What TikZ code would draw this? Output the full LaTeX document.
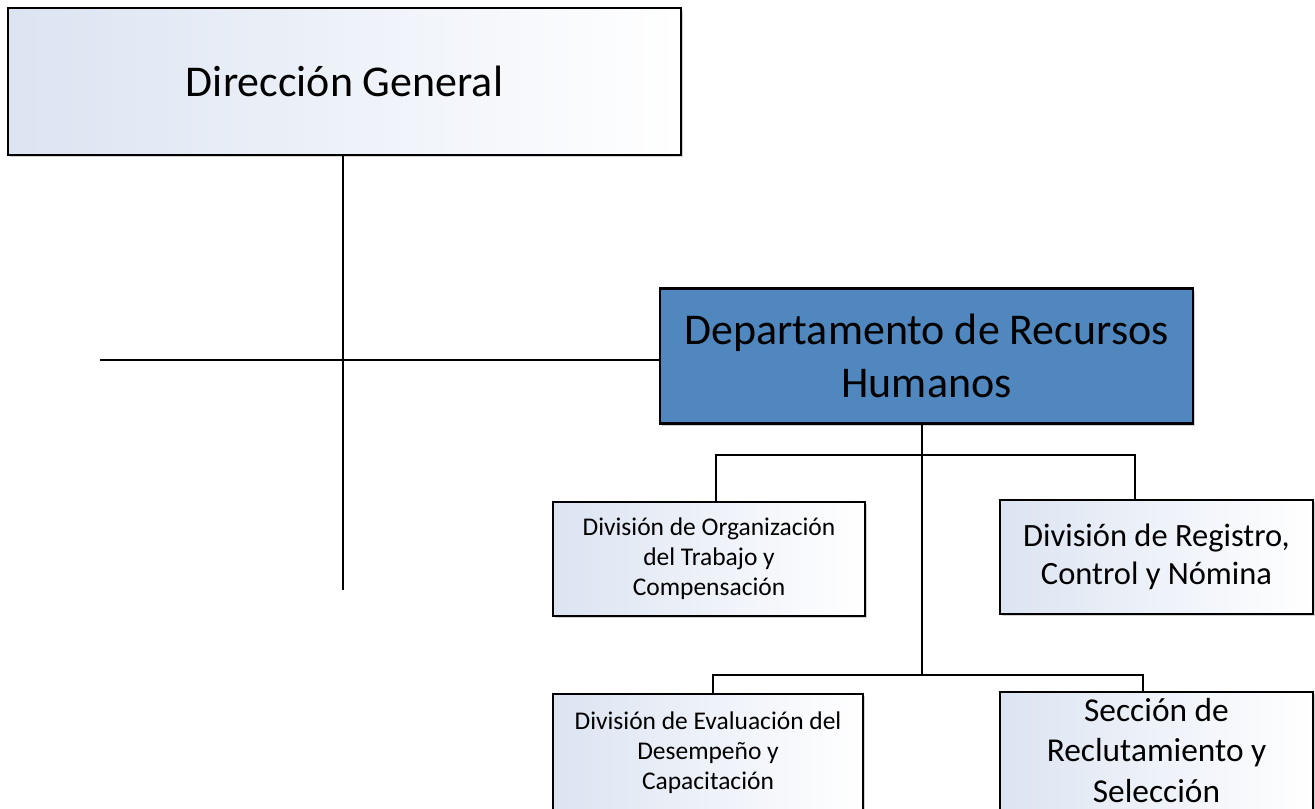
\documentclass[tikz,border=0pt]{standalone}
\usepackage{fontspec}
\setmainfont{Carlito}
\usepackage{tikz}
\usetikzlibrary{shadows}
\definecolor{deptblue}{RGB}{80,135,190}
\definecolor{boxtint}{RGB}{220,228,242}

\begin{document}
\begin{tikzpicture}[x=0.02cm, y=-0.02cm,
    unit/.style={draw=black, line width=1.6pt, align=center, inner sep=0pt,
      left color=boxtint, right color=white,
      drop shadow={shadow xshift=1.2pt, shadow yshift=-1.2pt, opacity=0.35}},
    dept/.style={unit, left color=deptblue, right color=deptblue},
    conn/.style={line width=1.5pt}]
    \clip (0, 0) rectangle (1315, 808);

    % Boxes
    \node[unit, minimum width=13.46cm, minimum height=2.94cm,
      font=\fontsize{25}{30}\selectfont] (dg) at (344.5, 81.5) {Dirección General};
    \node[dept, minimum width=10.66cm, minimum height=2.7cm,
      font=\fontsize{25}{30}\selectfont] (rh) at (926.5, 356)
      {Departamento de Recursos\\ Humanos};
    \node[unit, minimum width=6.24cm, minimum height=2.28cm,
      font=\fontsize{14.5}{17}\selectfont] (d1) at (709, 559)
      {División de Organización\\ del Trabajo y\\ Compensación};
    \node[unit, minimum width=6.26cm, minimum height=2.28cm,
      font=\fontsize{18.5}{21.5}\selectfont] (d2) at (1156.5, 557)
      {División de Registro,\\ Control y Nómina};
    \node[unit, minimum width=6.2cm, minimum height=2.36cm,
      font=\fontsize{14.5}{17}\selectfont] (d3) at (708, 753)
      {División de Evaluación del\\ Desempeño y\\ Capacitación};
    \node[unit, minimum width=6.26cm, minimum height=2.5cm,
      font=\fontsize{19}{23}\selectfont] (d4) at (1156.5, 754.5)
      {Sección de\\ Reclutamiento y\\ Selección\rule[-5pt]{0pt}{0pt}};

    \coordinate (endv) at (343, 590);
    \coordinate (hl) at (100, 360);
    \coordinate (j1) at (922, 455);
    \coordinate (j2) at (922, 675);

    % Lines
    \draw[conn] (343,0 |- dg.south) -- (endv);
    \draw[conn] (hl) -- (hl -| rh.west);
    \draw[conn] (922,0 |- rh.south) -- (j2);
    \draw[conn] (716,0 |- d1.north) |- (j1) -| (1135,0 |- d2.north);
    \draw[conn] (713,0 |- d3.north) |- (j2) -| (1143,0 |- d4.north);
  \end{tikzpicture}
\end{document}
